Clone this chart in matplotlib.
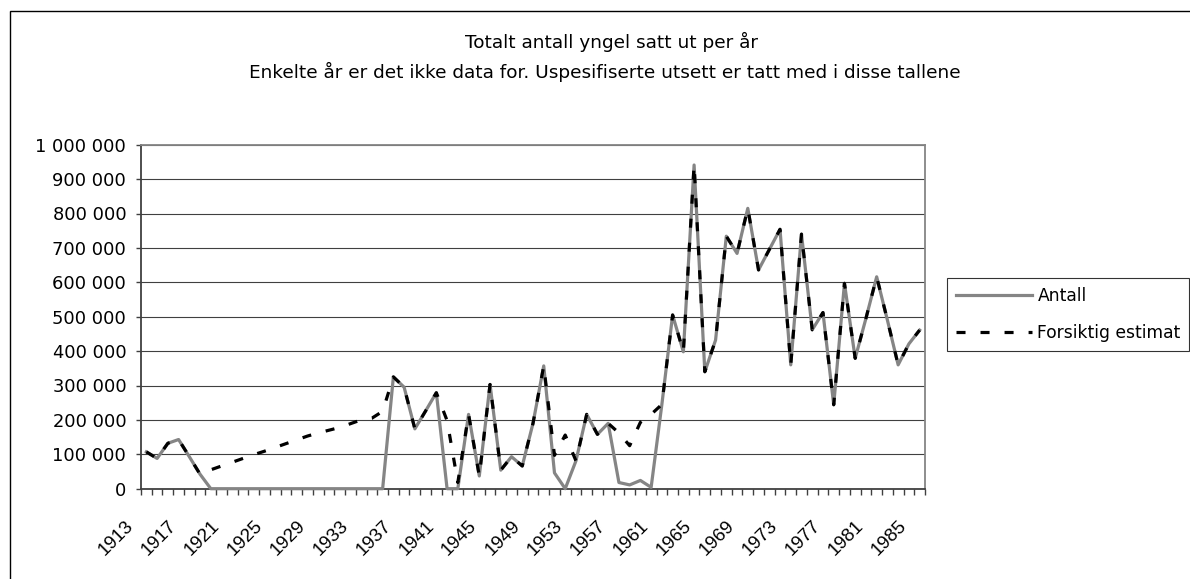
import matplotlib
matplotlib.use("Agg")
import matplotlib.pyplot as plt
import matplotlib.patches as patches
from matplotlib.transforms import ScaledTranslation

plt.rcParams['font.family'] = ['DejaVu Sans']
plt.rcParams['lines.scale_dashes'] = False

years = list(range(1913, 1986))

antall = [107000, 88000, 132000, 143000, 93000, 42000, 0, 0, 0, 0,
          0, 0, 0, 0, 0, 0, 0, 0, 0, 0,
          0, 0, 0, 325000, 295000, 174000, 226000, 279000, 0, 0,
          216000, 37000, 303000, 54000, 93000, 66000, 190000, 357000, 46000, 0,
          81000, 216000, 158000, 190000, 18000, 11000, 24000, 4000, 245000, 505000,
          398000, 941000, 340000, 432000, 734000, 684000, 815000, 636000, 695000, 754000,
          360000, 740000, 462000, 512000, 244000, 597000, 379000, 495000, 616000, 490000,
          360000, 421000, 461000]

estimat = [107000, 88000, 132000, 143000, 93000, 42000, 55000, 66000, 77000, 88000,
           99000, 109000, 120000, 131000, 142000, 153000, 162000, 170000, 178000, 189000,
           200000, 205000, 225000, 325000, 295000, 174000, 226000, 279000, 198000, 18000,
           216000, 37000, 303000, 54000, 93000, 66000, 190000, 357000, 97000, 156000,
           81000, 216000, 158000, 190000, 162000, 125000, 193000, 216000, 245000, 505000,
           398000, 941000, 340000, 432000, 734000, 684000, 815000, 636000, 695000, 754000,
           360000, 740000, 462000, 512000, 244000, 597000, 379000, 495000, 616000, 490000,
           360000, 421000, 461000]

series_names = ["Antall", "Forsiktig estimat"]
title_lines = ["Totalt antall yngel satt ut per år",
               "Enkelte år er det ikke data for. Uspesifiserte utsett er tatt med i disse tallene"]
y_ticks = [0, 100000, 200000, 300000, 400000, 500000, 600000, 700000, 800000, 900000, 1000000]
year_labels = [str(y) for y in years[::4]]

W, H = 1190, 579
fig = plt.figure(figsize=(W / 100, H / 100), dpi=100)
fig.patch.set_facecolor("white")

# outer chart frame (runs past right/bottom edge like the source)
fig.patches.append(patches.Rectangle((9.5 / W, -0.05), 1.2, 1 - 11 / H + 0.05,
                                     transform=fig.transFigure, fill=False,
                                     edgecolor="black", linewidth=1.0))

ax = fig.add_axes([141 / W, (H - 488.7) / H, 784 / W, 344 / H])
x = list(range(len(years)))

ax.plot(x, antall, color="#858585", linewidth=2.3, zorder=3, clip_on=False,
        label=series_names[0])
ax.plot(x, estimat, color="black", linewidth=2.3, zorder=4, clip_on=False,
        dashes=(6.5, 10.8), dash_capstyle="butt", label=series_names[1])

ax.set_xlim(-0.5, len(years) - 0.5)
ax.set_ylim(0, 1000000)

# gridlines
ax.set_yticks(y_ticks)
ax.set_yticklabels([f"{v:,}".replace(",", " ") for v in y_ticks], fontsize=12.9)
ax.yaxis.grid(True, color="#404040", linewidth=0.8)
ax.set_axisbelow(True)
ax.tick_params(axis="y", direction="out", length=3.6, width=1.0, color="#404040", pad=7)

# x axis: ticks between categories, labels every 4 years
ax.set_xticks(x[::4])
ax.set_xticklabels(year_labels, rotation=45, ha="right", va="baseline",
                   rotation_mode="anchor", fontsize=13.5, family="Liberation Sans")
ax.set_xticks([i - 0.5 for i in range(len(years) + 1)], minor=True)
ax.tick_params(axis="x", which="major", length=0, pad=27)
ax.tick_params(axis="x", which="minor", direction="out", length=4, width=1.0, color="#404040")
shift = ScaledTranslation(-9 / 72, 0, fig.dpi_scale_trans)
for lab in ax.get_xticklabels():
    lab.set_transform(lab.get_transform() + shift)

for side in ["left", "bottom"]:
    ax.spines[side].set_color("#404040")
    ax.spines[side].set_linewidth(1.3)
for side in ["top", "right"]:
    ax.spines[side].set_color("#858585")
    ax.spines[side].set_linewidth(1.3)

fig.text(612 / W, 1 - 42 / H, title_lines[0], ha="center", va="center", fontsize=13.3)
fig.text(605 / W, 1 - 72 / H, title_lines[1], ha="center", va="center", fontsize=13.3)

leg = ax.legend(loc="upper left", bbox_to_anchor=(947 / W, 1 - 278 / H),
                bbox_transform=fig.transFigure, fontsize=12.3, frameon=True,
                fancybox=False, edgecolor="black", borderaxespad=0, borderpad=0.5,
                handlelength=4.5, handletextpad=0.29, labelspacing=1.15)
leg.get_frame().set_linewidth(0.8)

fig.savefig("out.png", dpi=100)
